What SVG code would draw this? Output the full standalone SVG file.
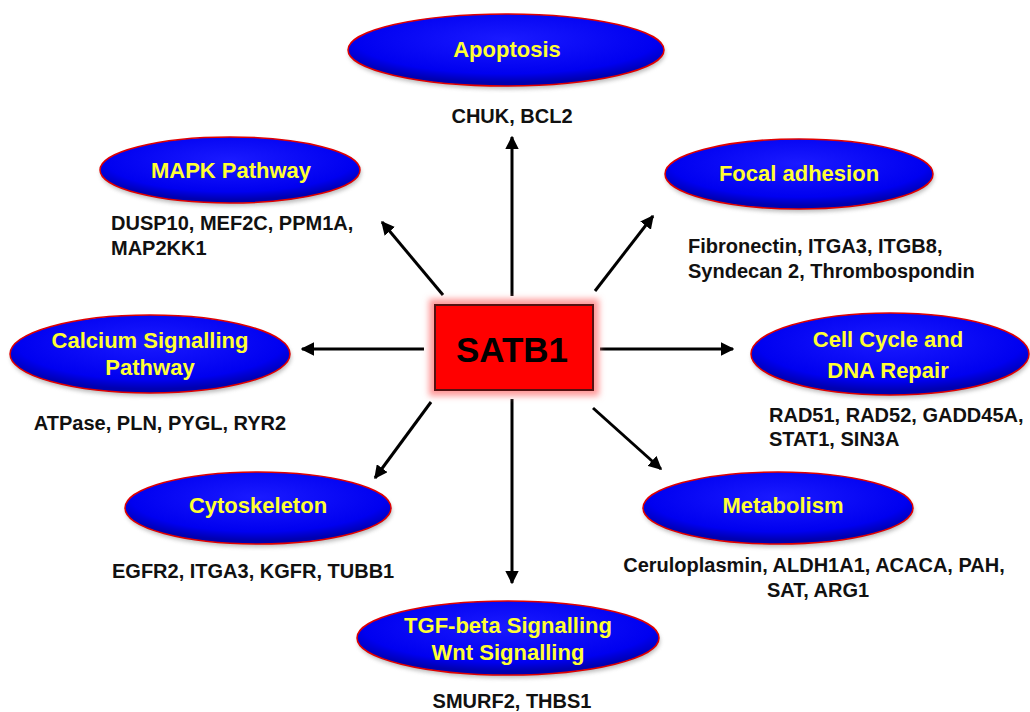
<svg xmlns="http://www.w3.org/2000/svg" width="1030" height="712" viewBox="0 0 1030 712">
<defs>
<radialGradient id="blueg" cx="50%" cy="35%" r="60%">
<stop offset="0%" stop-color="#1a1aff"/>
<stop offset="80%" stop-color="#0000f0"/>
<stop offset="100%" stop-color="#0000b0"/>
</radialGradient>
<filter id="glow" x="-20%" y="-20%" width="140%" height="140%">
<feGaussianBlur stdDeviation="3"/>
</filter>
<filter id="shadow" x="-10%" y="-20%" width="120%" height="150%">
<feGaussianBlur stdDeviation="2"/>
</filter>
<marker id="arr" viewBox="0 0 10 10" refX="9" refY="5" markerWidth="4.5" markerHeight="4.5" orient="auto" markerUnits="strokeWidth">
<path d="M0,0 L10,5 L0,10 z" fill="#000"/>
</marker>
</defs>
<style>
.ell{fill:url(#blueg);stroke:#e00000;stroke-width:1.5}
.sh{fill:#888;opacity:0.6}
.yt{font-family:"Liberation Sans",Arial,sans-serif;font-weight:bold;font-size:22px;fill:#ffff33;text-anchor:middle}
.bt{font-family:"Liberation Sans",Arial,sans-serif;font-weight:bold;font-size:20px;fill:#111}
.mid{text-anchor:middle}
.con line{stroke:#000;stroke-width:3;marker-end:url(#arr)}
</style>
<rect width="1030" height="712" fill="#fff"/>

<g class="con" id="connectors">
<line x1="512" y1="296" x2="512" y2="137"/>
<line x1="443" y1="295" x2="382" y2="222"/>
<line x1="595" y1="291" x2="653" y2="216"/>
<line x1="424" y1="349" x2="302" y2="349"/>
<line x1="600" y1="349" x2="733" y2="349"/>
<line x1="431" y1="402" x2="375" y2="478"/>
<line x1="593" y1="408" x2="661" y2="469"/>
<line x1="512" y1="399" x2="512" y2="583"/>
</g>

<g id="satb1">
<rect x="429" y="299" width="170" height="97" fill="#ff9999" filter="url(#glow)"/>
<rect x="435" y="305" width="158" height="85" fill="#ff0000" stroke="#551111" stroke-width="2"/>
<text x="512" y="362" font-family="'Liberation Sans',Arial,sans-serif" font-weight="bold" font-size="35" fill="#000" text-anchor="middle">SATB1</text>
</g>

<g id="apoptosis">
<ellipse class="sh" cx="507" cy="53" rx="158" ry="36" filter="url(#shadow)"/>
<ellipse class="ell" cx="506" cy="50" rx="158" ry="36"/>
<text class="yt" x="507" y="57">Apoptosis</text>
<text class="bt mid" x="512" y="123">CHUK, BCL2</text>
</g>

<g id="mapk">
<ellipse class="sh" cx="231" cy="173" rx="130" ry="33" filter="url(#shadow)"/>
<ellipse class="ell" cx="230" cy="170" rx="130" ry="33"/>
<text class="yt" x="231" y="178">MAPK Pathway</text>
<text class="bt" x="111" y="230">DUSP10, MEF2C, PPM1A,</text>
<text class="bt" x="111" y="255">MAP2KK1</text>
</g>

<g id="focal">
<ellipse class="sh" cx="800" cy="177" rx="134" ry="35" filter="url(#shadow)"/>
<ellipse class="ell" cx="799" cy="174" rx="134" ry="35"/>
<text class="yt" x="799" y="181">Focal adhesion</text>
<text class="bt" x="688" y="253">Fibronectin, ITGA3, ITGB8,</text>
<text class="bt" x="688" y="278">Syndecan 2, Thrombospondin</text>
</g>

<g id="calcium">
<ellipse class="sh" cx="151" cy="357" rx="140" ry="39" filter="url(#shadow)"/>
<ellipse class="ell" cx="150" cy="354" rx="140" ry="39"/>
<text class="yt" x="150" y="348">Calcium Signalling</text>
<text class="yt" x="150" y="375">Pathway</text>
<text class="bt mid" x="160" y="430">ATPase, PLN, PYGL, RYR2</text>
</g>

<g id="cellcycle">
<ellipse class="sh" cx="891" cy="357" rx="139" ry="41" filter="url(#shadow)"/>
<ellipse class="ell" cx="890" cy="354" rx="139" ry="41"/>
<text class="yt" x="888" y="347">Cell Cycle and</text>
<text class="yt" x="888" y="378">DNA Repair</text>
<text class="bt" x="769" y="422">RAD51, RAD52, GADD45A,</text>
<text class="bt" x="769" y="446">STAT1, SIN3A</text>
</g>

<g id="cytoskeleton">
<ellipse class="sh" cx="259" cy="511" rx="133" ry="36" filter="url(#shadow)"/>
<ellipse class="ell" cx="258" cy="508" rx="133" ry="36"/>
<text class="yt" x="258" y="513">Cytoskeleton</text>
<text class="bt" x="112" y="578">EGFR2, ITGA3, KGFR, TUBB1</text>
</g>

<g id="metabolism">
<ellipse class="sh" cx="779" cy="511" rx="135" ry="36" filter="url(#shadow)"/>
<ellipse class="ell" cx="778" cy="508" rx="135" ry="36"/>
<text class="yt" x="783" y="513">Metabolism</text>
<text class="bt mid" x="814" y="572">Ceruloplasmin, ALDH1A1, ACACA, PAH,</text>
<text class="bt mid" x="818" y="597">SAT, ARG1</text>
</g>

<g id="tgf">
<ellipse class="sh" cx="509" cy="641" rx="151" ry="37" filter="url(#shadow)"/>
<ellipse class="ell" cx="508" cy="638" rx="151" ry="37"/>
<text class="yt" x="508" y="633">TGF-beta Signalling</text>
<text class="yt" x="508" y="660">Wnt Signalling</text>
<text class="bt mid" x="512" y="708">SMURF2, THBS1</text>
</g>
</svg>
